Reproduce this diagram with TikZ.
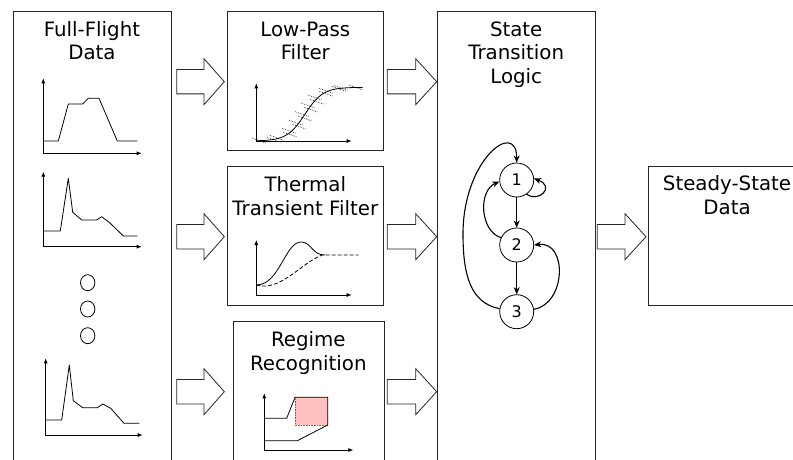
\documentclass[tikz,border=0pt]{standalone}
\usepackage{fontspec}
\setmainfont{DejaVu Sans}
\usetikzlibrary{arrows.meta,shapes.geometric}
\definecolor{regimefill}{RGB}{255,192,192}
\tikzset{
  panel/.style={draw=black!85, line width=0.8pt, fill=white, inner sep=0pt, anchor=south west},
  title/.style={font=\fontsize{19.8}{23.3}\selectfont, align=center, anchor=base, inner sep=0pt},
  fat/.style={draw=black!85, line width=0.8pt, fill=white, line join=miter},
  axes/.style={line width=0.8pt, {Latex[length=5pt,width=4pt]}-{Latex[length=5pt,width=4pt]}},
  trace/.style={line width=0.8pt, line join=round},
  noise/.style={densely dotted, line width=0.7pt, black!80},
  dot/.style={draw, line width=0.8pt, ellipse, minimum width=14.4pt, minimum height=16pt, inner sep=0pt},
  state/.style={circle, draw, line width=0.8pt, minimum size=34pt, inner sep=0pt, font=\fontsize{16}{18}\selectfont},
  trans/.style={line width=1.1pt, -{Stealth[length=7pt,width=6pt,inset=2pt]}},
}
% hollow block arrow: shaft start, head base, tip, centre height
\newcommand\fatarrow[4]{%
  \draw[fat] (#1,{#4+12.2}) -- (#2,{#4+12.2}) -- (#2,{#4+23}) -- (#3,#4)
    -- (#2,{#4-23}) -- (#2,{#4-12.2}) -- (#1,{#4-12.2}) -- cycle;}
\begin{document}
\begin{tikzpicture}[x=1pt,y=1pt]
\useasboundingbox[fill=white] (0,0) rectangle (793,459);

% ---- panels ----
\node[panel, minimum width=157.7pt, minimum height=452.3pt] (ff) at (13,-5) {};
\node[panel, minimum width=156pt, minimum height=139.3pt] (lp) at (227.3,308) {};
\node[panel, minimum width=156pt, minimum height=139.3pt] (th) at (227.3,153) {};
\node[panel, minimum width=151.5pt, minimum height=142pt] (rr) at (232.5,-5) {};
\node[panel, minimum width=157.7pt, minimum height=452.3pt] (st) at (437.3,-5) {};
\node[panel, minimum width=158pt, minimum height=139pt] (ss) at (648.3,153.3) {};

% ---- titles (anchored on the baseline of their last line) ----
\node[title] (ffT) at (91.9,399) {Full-Flight\\Data};
\node[title] (lpT) at (305.3,399) {Low-Pass\\Filter};
\node[title] (thT) at (305.3,244) {Thermal\\Transient Filter};
\node[title] (rrT) at (308.3,89) {Regime\\Recognition};
\node[title] (stT) at (516.2,375.7) {State\\Transition\\Logic};
\node[title] (ssT) at (727,245) {Steady-State\\Data};

% ---- block arrows ----
\fatarrow{176.7}{204}{224.3}{377.3}
\fatarrow{176.7}{204}{224.3}{222.3}
\fatarrow{176.7}{204}{224.3}{67.3}
\fatarrow{387.3}{415.7}{436.7}{377.3}
\fatarrow{387.3}{415.7}{436.7}{222.3}
\fatarrow{387.3}{415.7}{436.7}{67.3}
\fatarrow{597.3}{625}{646}{222.3}

% ---- full-flight records ----
\draw[axes] (43.3,380.7) -- (43.3,305.7) -- (141.7,305.7);
\draw[trace] (43.3,318) -- (58.3,318) -- (68.3,355) -- (82.7,355) -- (88.3,360.7)
  -- (99,360.7) -- (117.3,318) -- (137.3,318);

\draw[axes] (43.3,287.3) -- (43.3,212.3) -- (141.7,212.3);
\draw[trace] (43.3,228) -- (60.3,228) -- (68.3,280.7) -- (72.7,246.7) -- (81.7,239)
  -- (96.7,239) -- (101.7,242.3) -- (110,236) -- (123.3,223) -- (137.3,223);

\node[dot] (d1) at (87.7,176.3) {};
\node[dot] (d2) at (87.7,150) {};
\node[dot] (d3) at (87.7,123.3) {};

\draw[axes] (45.7,100.7) -- (45.7,24) -- (142.7,24);
\draw[trace] (45.7,39) -- (61.7,39) -- (69.3,94) -- (73.3,58.3) -- (82.7,51.3)
  -- (97.3,51.3) -- (102.7,55) -- (110.7,50.7) -- (124,35.7) -- (139.3,35.7);

% ---- low-pass filter sketch ----
\draw[axes] (256.3,375.7) -- (256.3,318) -- (351.7,318);
\foreach \xx [count=\i] in {262,271,280,287,292,296,299,302,305,308,311,314,318,323,329,336,344,353} {
  \pgfmathsetmacro\yy{318+53.7/(1+exp(-(\xx-305)/9))}
  \pgfmathsetmacro\jit{mod(\i,2)==0 ? 3 : -3}
  \draw[noise] ({\xx+\jit-7},{\yy+2.5}) -- ({\xx+\jit+7},{\yy-2.5});
}
\draw[trace] plot[domain=256.3:362.7, samples=60] (\x, {318+53.7/(1+exp(-(\x-305)/9))});

% ---- thermal transient sketch ----
\draw[axes] (256.3,219) -- (256.3,164) -- (351.7,164);
\draw[trace] (256.3,174) .. controls (280,174) and (285,218) .. (301.7,217)
  .. controls (312,216) and (312,204) .. (325,204);
\draw[trace, dash pattern=on 4pt off 2pt] (256.3,174) .. controls (280,167) and (300,195) .. (322,204) -- (358.3,204);

% ---- regime recognition sketch ----
\draw[axes] (264.3,65.7) -- (264.3,9) -- (353.3,9);
\fill[regimefill] (295,34) rectangle (327.7,61.7);
\draw[densely dotted, line width=0.6pt, black!60] (295,61.7) -- (295,34) -- (327.7,34);
\draw[trace] (264.3,40.7) -- (286.7,40.7) -- (295,61.7) -- (327.7,61.7) -- (327.7,34)
  -- (297.3,18.3) -- (264.3,18.3);

% ---- state machine ----
\node[state] (s1) at (516.7,279) {1};
\node[state] (s2) at (516.7,214) {2};
\node[state] (s3) at (516.7,147.3) {3};
\draw[trans] (s1) -- (s2);
\draw[trans] (s2) -- (s3);
\draw[trans] (s1.-55) .. controls (538,256) and (556,272) .. (s1.5);
\draw[trans] (s2.155) .. controls (480,228) and (478,268) .. (s1.185);
\draw[trans] (s3.170) .. controls (470,156) and (463,185) .. (463,225)
  .. controls (463,300) and (516.7,340) .. (s1.north);
\draw[trans] (s3.8) .. controls (566,155) and (568,218) .. (s2.east);
\end{tikzpicture}
\end{document}
